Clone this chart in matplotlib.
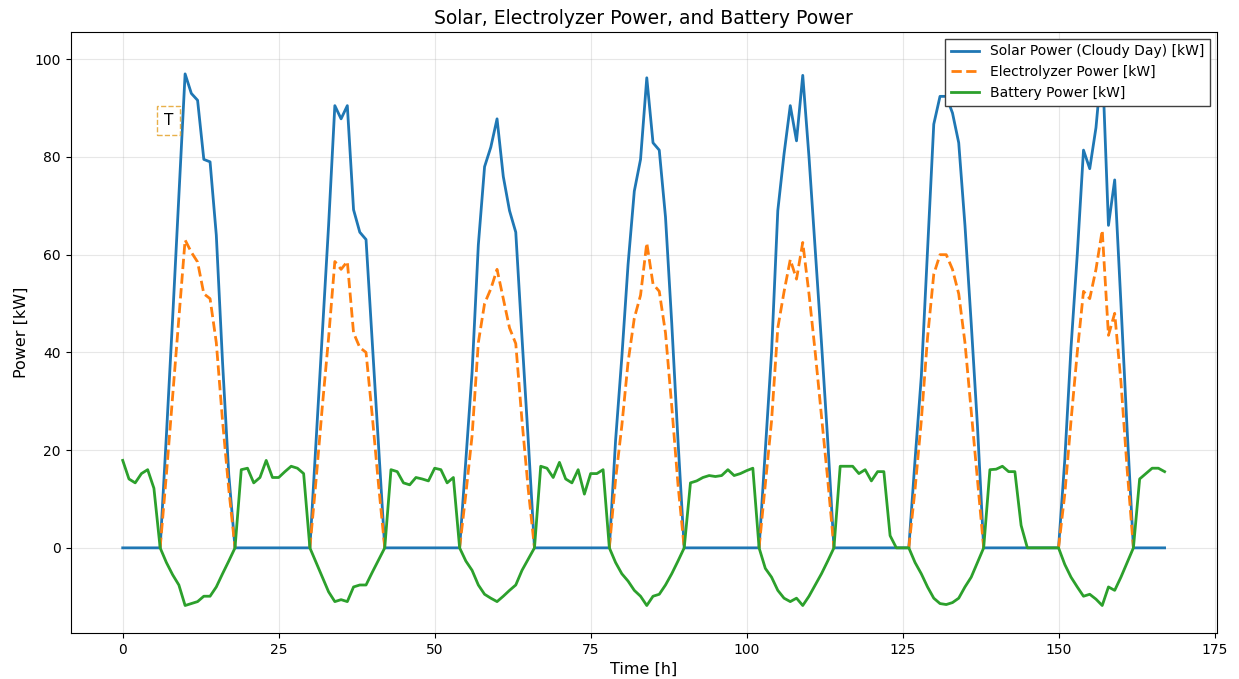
import numpy as np
import matplotlib
matplotlib.use("Agg")
import matplotlib.pyplot as plt

# hourly time axis, one week
hours = list(range(168))

nan = np.nan

# solar power on a cloudy week [kW]
solar_kw = (
    [0, 0, 0, 0, 0, 0]
    + [0, 23, 47, 72, 97, 93, 91.6, 79.5, 79, 64, 38, 15, 0]
    + [0] * 11
    + [0, 22, 44, 66, 90.5, 87.8, 90.5, 69.2, 64.6, 63.1, 42, 21, 0]
    + [0] * 11
    + [0, 18, 36, 62, 78, 82, 87.8, 76, 69, 64.6, 43, 22, 0]
    + [0] * 11
    + [0, 22, 39, 58, 73, 79.5, 96.2, 82.9, 81.4, 67.7, 46, 22, 0]
    + [0] * 11
    + [0, 20, 40, 69, 80.6, 90.5, 83.3, 96.7, 80, 61, 42, 22, 0]
    + [0] * 11
    + [0, 18, 35, 61, 86.7, 92.4, 92.4, 89, 82.9, 66, 46, 25, 0]
    + [0] * 11
    + [0, 18, 41, 60, 81.4, 77.6, 86, 100, 66, 75.3, 50, 24, 0]
    + [0] * 5
)

# electrolyzer power, only while the sun is up [kW]
electrolyzer_kw = (
    [nan] * 6
    + [0, 15, 31, 47, 63, 60.5, 58.5, 52, 51, 42, 26, 12, 0]
    + [nan] * 11
    + [0, 14, 29, 43, 58.6, 57, 58.6, 44, 41, 40, 27, 13, 0]
    + [nan] * 11
    + [0, 11, 23, 42, 50, 53, 57, 51, 45, 41.8, 26, 12, 0]
    + [nan] * 11
    + [0, 14, 25, 38, 47, 51.7, 62.4, 54, 52.5, 44, 29, 13, 0]
    + [nan] * 11
    + [0, 13, 26, 45, 52.4, 59, 55, 62.5, 52, 40, 27, 14, 0]
    + [nan] * 11
    + [0, 12, 26, 43, 56, 60, 60, 57, 52, 42, 28, 14, 0]
    + [nan] * 11
    + [0, 11, 26, 40, 52.5, 51, 57, 65, 43.5, 48, 34, 16, 0]
    + [nan] * 5
)

# battery power (+ discharge at night, - charge during the day) [kW]
battery_kw = (
    [17.9, 14.1, 13.3, 15.2, 16, 12.2]
    + [0, -3, -5.5, -7.6, -11.8, -11.4, -11, -9.9, -9.9, -8, -5.3, -2.7, 0]
    + [16, 16.3, 13.3, 14.4, 17.9, 14.4, 14.4, 15.6, 16.7, 16.3, 15.2]
    + [0, -3, -6, -9, -11, -10.6, -11, -8, -7.6, -7.6, -5, -2.5, 0]
    + [16, 15.6, 13.3, 12.9, 14.4, 14.1, 13.7, 16.3, 16, 13.3, 14.4]
    + [0, -2.7, -4.6, -7.6, -9.5, -10.3, -11, -9.9, -8.7, -7.6, -4.6, -2.3, 0]
    + [16.7, 16.3, 14.4, 17.5, 14.1, 13.3, 16, 11, 15.2, 15.2, 16]
    + [0, -3, -5.3, -6.8, -8.7, -9.9, -11.8, -9.9, -9.5, -7.6, -5.3, -2.7, 0]
    + [13.3, 13.7, 14.4, 14.8, 14.6, 14.8, 16, 14.8, 15.2, 15.8, 16.3]
    + [0, -4.2, -6, -8.7, -10.3, -11, -10.3, -11.8, -9.9, -7.6, -5.3, -2.7, 0]
    + [16.7, 16.7, 16.7, 15.2, 16, 13.7, 15.6, 15.6, 2.5, 0, 0]
    + [0, -3, -5.3, -8, -10.3, -11.4, -11.6, -11.2, -10.3, -8, -6, -3, 0]
    + [16, 16.1, 16.7, 15.6, 15.6, 4.6, 0, 0, 0, 0, 0]
    + [0, -3.4, -6, -8, -9.9, -9.5, -10.5, -11.8, -8, -8.7, -6, -3, 0]
    + [14.1, 15.2, 16.3, 16.3, 15.6]
)

fig, ax = plt.subplots(figsize=(12.39, 6.79), dpi=100)

ax.plot(hours, solar_kw, color="tab:blue", lw=2, label="Solar Power (Cloudy Day) [kW]")
ax.plot(hours, electrolyzer_kw, color="tab:orange", lw=2, ls="--", label="Electrolyzer Power [kW]")
ax.plot(hours, battery_kw, color="tab:green", lw=2, label="Battery Power [kW]")

# small marker box left over in the original figure
ax.text(7.3, 87.5, "T", fontsize=11, ha="center", va="center",
        bbox=dict(boxstyle="square,pad=0.45", ls="--", ec="#e8b04a", fc="white", lw=1))

ax.set_title("Solar, Electrolyzer Power, and Battery Power", fontsize=13.5)
ax.set_xlabel("Time [h]", fontsize=11.5)
ax.set_ylabel("Power [kW]", fontsize=11.5)
ax.grid(True, alpha=0.3)
ax.legend(loc="upper right", fancybox=False, edgecolor="0.25", framealpha=1)

fig.subplots_adjust(left=0.057, right=0.982, top=0.953, bottom=0.068)
fig.savefig("out.png", dpi=100)
